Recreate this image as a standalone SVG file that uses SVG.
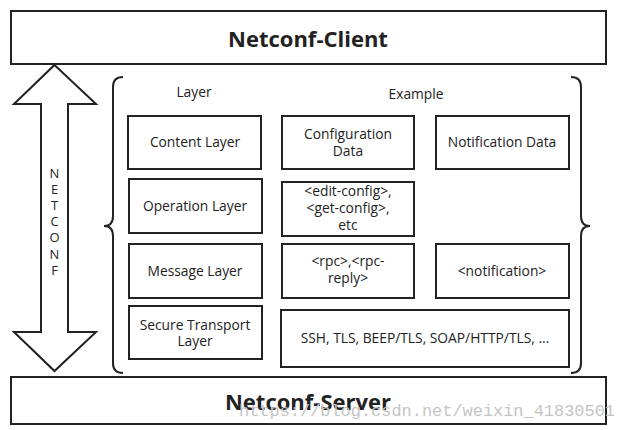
<svg xmlns="http://www.w3.org/2000/svg" width="617" height="430" viewBox="0 0 617 430">
<style>
.box{fill:#fff;stroke:#222;stroke-width:2}
.t{font-family:"Open Sans","Noto Sans",sans-serif;font-size:13.8px;fill:#222;text-anchor:middle}
.b{font-family:"Open Sans","Noto Sans",sans-serif;font-size:22px;font-weight:bold;fill:#222;text-anchor:middle}
.line{fill:none;stroke:#222;stroke-width:2}
</style>
<rect width="617" height="430" fill="#fff"/>
<g id="client"><rect class="box" x="11" y="11" width="595" height="53"/><text class="b" x="308" y="47">Netconf-Client</text></g>
<g id="server"><rect class="box" x="11" y="377" width="595" height="47"/><text class="b" x="308" y="410">Netconf-Server</text></g>
<g id="netconf-arrow"><polygon class="line" points="54.5,65 96,104 68,104 68,332 96,332 54.5,371 14,332 41,332 41,104 14,104" fill="#fff"/>
<text x="54.5" y="164" font-family="Open Sans, Noto Sans, sans-serif" font-size="13" fill="#222" style="writing-mode:vertical-rl;text-orientation:upright;letter-spacing:-1.9px">NETCONF</text></g>
<g id="connectors">
<path class="line" d="M123,77 Q113,77 113,87 L113,216 Q113,226 104,226 Q113,226 113,236 L113,363 Q113,373 123,373"/>
<path class="line" d="M571,77 Q581,77 581,87 L581,216 Q581,226 590,226 Q581,226 581,236 L581,363 Q581,373 571,373"/>
</g>
<g id="hdr-layer"><text class="t" x="194" y="97">Layer</text></g>
<g id="hdr-example"><text class="t" x="416" y="99">Example</text></g>
<g id="content-layer"><rect class="box" x="128" y="116" width="133" height="53"/><text class="t" x="195" y="147">Content Layer</text></g>
<g id="operation-layer"><rect class="box" x="129" y="179" width="133" height="54"/><text class="t" x="195" y="211">Operation Layer</text></g>
<g id="message-layer"><rect class="box" x="129" y="244" width="133" height="54"/><text class="t" x="195" y="276">Message Layer</text></g>
<g id="secure-layer"><rect class="box" x="129" y="306" width="133" height="53"/><text class="t" x="195"><tspan x="195" y="330">Secure Transport</tspan><tspan x="195" y="346">Layer</tspan></text></g>
<g id="config-data"><rect class="box" x="282" y="116" width="132" height="53"/><text class="t" x="348"><tspan x="348" y="139">Configuration</tspan><tspan x="348" y="156">Data</tspan></text></g>
<g id="notification-data"><rect class="box" x="436" y="116" width="133" height="53"/><text class="t" x="502" y="147">Notification Data</text></g>
<g id="ops"><rect class="box" x="282" y="182" width="132" height="54"/><text class="t" x="348"><tspan x="348" y="196">&lt;edit-config&gt;,</tspan><tspan x="348" y="213">&lt;get-config&gt;,</tspan><tspan x="348" y="230">etc</tspan></text></g>
<g id="rpc"><rect class="box" x="282" y="244" width="132" height="54"/><text class="t" x="348"><tspan x="348" y="266">&lt;rpc&gt;,&lt;rpc-</tspan><tspan x="348" y="283">reply&gt;</tspan></text></g>
<g id="notification"><rect class="box" x="436" y="244" width="133" height="54"/><text class="t" x="502" y="276">&lt;notification&gt;</text></g>
<g id="transport"><rect class="box" x="281" y="310" width="288" height="57"/><text class="t" x="425" y="343">SSH, TLS, BEEP/TLS, SOAP/HTTP/TLS, ...</text></g>
<text x="239" y="416" font-family="Liberation Mono, monospace" font-size="17" fill="#c4c4c4" textLength="376" lengthAdjust="spacingAndGlyphs">https://blog.csdn.net/weixin_41830501</text>
</svg>
